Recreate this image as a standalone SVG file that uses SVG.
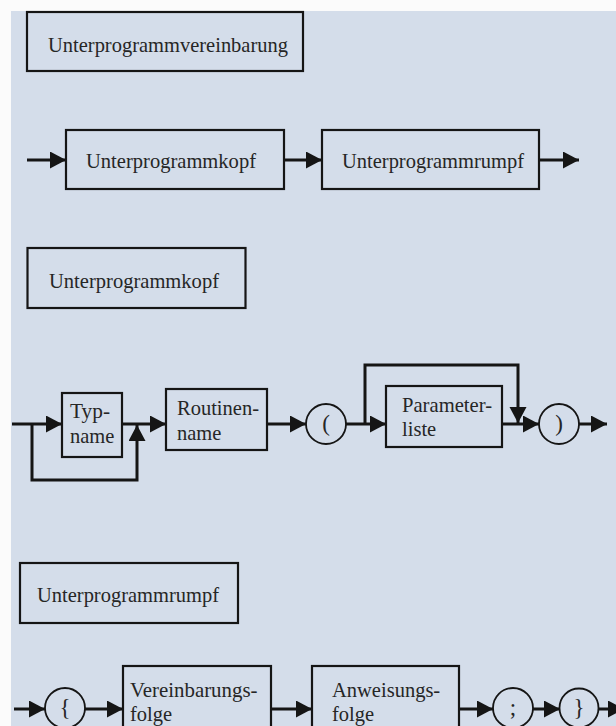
<svg xmlns="http://www.w3.org/2000/svg" width="616" height="726" viewBox="0 0 616 726">
<defs>
<style>
.bg{fill:#d4ddea}
.box{fill:none;stroke:#151515;stroke-width:2.2}
.term{fill:none;stroke:#151515;stroke-width:1.8}
.lbl{font-family:'Liberation Serif','DejaVu Serif',serif;font-size:21.5px;fill:#262626}
.sym{font-family:'Liberation Serif','DejaVu Serif',serif;font-size:23px;fill:#262626;text-anchor:middle}
.con{fill:none;stroke:#151515;stroke-width:3;marker-end:url(#ah)}
</style>
<marker id="ah" markerUnits="userSpaceOnUse" markerWidth="17" markerHeight="18" refX="16" refY="8.5" orient="auto">
<path d="M0,0 L16,8.5 L0,17 z" fill="#151515"/>
</marker>
</defs>
<rect x="0" y="0" width="616" height="726" fill="#fbfbfb"/>
<rect class="bg" x="11" y="11" width="605" height="715"/>

<g id="connectors">
<path class="con" d="M27,160 H66"/>
<path class="con" d="M284,160 H322"/>
<path class="con" d="M539,160 H579"/>
<path class="con" d="M12,424 H62"/>
<path class="con" d="M32,424 V480 H137 V425"/>
<path class="con" d="M122,424 H166"/>
<path class="con" d="M267,424 H306"/>
<path class="con" d="M346,424 H386"/>
<path class="con" d="M365,424 V365 H518 V423"/>
<path class="con" d="M502,424 H539"/>
<path class="con" d="M579,424 H607"/>
<path class="con" d="M14,709 H45"/>
<path class="con" d="M85,709 H123"/>
<path class="con" d="M271,709 H312"/>
<path class="con" d="M459,709 H493"/>
<path class="con" d="M533,709 H560"/>
<path class="con" d="M598,709 H624"/>
</g>

<g id="hdr-vereinbarung">
<rect class="box" x="27" y="12" width="276" height="59"/>
<text class="lbl" font-family="Liberation Serif, serif" x="48" y="52" textLength="240" lengthAdjust="spacingAndGlyphs">Unterprogrammvereinbarung</text>
</g>
<g id="n-kopf-1">
<rect class="box" x="66" y="130" width="218" height="59"/>
<text class="lbl" font-family="Liberation Serif, serif" x="86" y="168" textLength="170" lengthAdjust="spacingAndGlyphs">Unterprogrammkopf</text>
</g>
<g id="n-rumpf-1">
<rect class="box" x="322" y="130" width="217" height="59"/>
<text class="lbl" font-family="Liberation Serif, serif" x="342" y="168" textLength="182" lengthAdjust="spacingAndGlyphs">Unterprogrammrumpf</text>
</g>

<g id="hdr-kopf">
<rect class="box" x="27.5" y="248" width="218" height="60"/>
<text class="lbl" font-family="Liberation Serif, serif" x="49" y="288" textLength="170" lengthAdjust="spacingAndGlyphs">Unterprogrammkopf</text>
</g>
<g id="n-typname">
<rect class="box" x="62" y="393" width="60" height="64"/>
<text class="lbl" font-family="Liberation Serif, serif" x="70" y="418" textLength="40" lengthAdjust="spacingAndGlyphs">Typ-</text>
<text class="lbl" font-family="Liberation Serif, serif" x="70" y="443" textLength="44.4" lengthAdjust="spacingAndGlyphs">name</text>
</g>
<g id="n-routinenname">
<rect class="box" x="166" y="389" width="101" height="61"/>
<text class="lbl" font-family="Liberation Serif, serif" x="177" y="415" textLength="82" lengthAdjust="spacingAndGlyphs">Routinen-</text>
<text class="lbl" font-family="Liberation Serif, serif" x="177" y="440" textLength="44.4" lengthAdjust="spacingAndGlyphs">name</text>
</g>
<g id="t-open-paren">
<circle class="term" cx="326" cy="424" r="20"/>
<text class="sym" font-family="Liberation Serif, serif" x="326" y="431">(</text>
</g>
<g id="n-parameterliste">
<rect class="box" x="386" y="386" width="116" height="61"/>
<text class="lbl" font-family="Liberation Serif, serif" x="402" y="412" textLength="90" lengthAdjust="spacingAndGlyphs">Parameter-</text>
<text class="lbl" font-family="Liberation Serif, serif" x="402" y="436" textLength="34.2" lengthAdjust="spacingAndGlyphs">liste</text>
</g>
<g id="t-close-paren">
<circle class="term" cx="559" cy="424" r="20"/>
<text class="sym" font-family="Liberation Serif, serif" x="559" y="431">)</text>
</g>

<g id="hdr-rumpf">
<rect class="box" x="20" y="563" width="218" height="60"/>
<text class="lbl" font-family="Liberation Serif, serif" x="37" y="602" textLength="182" lengthAdjust="spacingAndGlyphs">Unterprogrammrumpf</text>
</g>
<g id="t-open-brace">
<circle class="term" cx="65" cy="708" r="20"/>
<text class="sym" font-family="Liberation Serif, serif" x="65" y="715">{</text>
</g>
<g id="n-vereinbarungsfolge">
<rect class="box" x="123" y="666" width="148" height="66"/>
<text class="lbl" font-family="Liberation Serif, serif" x="130" y="697" textLength="127.5" lengthAdjust="spacingAndGlyphs">Vereinbarungs-</text>
<text class="lbl" font-family="Liberation Serif, serif" x="130" y="721" textLength="42.1" lengthAdjust="spacingAndGlyphs">folge</text>
</g>
<g id="n-anweisungsfolge">
<rect class="box" x="312" y="666" width="147" height="66"/>
<text class="lbl" font-family="Liberation Serif, serif" x="332" y="697" textLength="108.2" lengthAdjust="spacingAndGlyphs">Anweisungs-</text>
<text class="lbl" font-family="Liberation Serif, serif" x="332" y="721" textLength="42.1" lengthAdjust="spacingAndGlyphs">folge</text>
</g>
<g id="t-semicolon">
<circle class="term" cx="513" cy="708" r="20"/>
<text class="sym" font-family="Liberation Serif, serif" x="513" y="715">;</text>
</g>
<g id="t-close-brace">
<circle class="term" cx="579" cy="708" r="19.5"/>
<text class="sym" font-family="Liberation Serif, serif" x="579" y="715">}</text>
</g>
</svg>
